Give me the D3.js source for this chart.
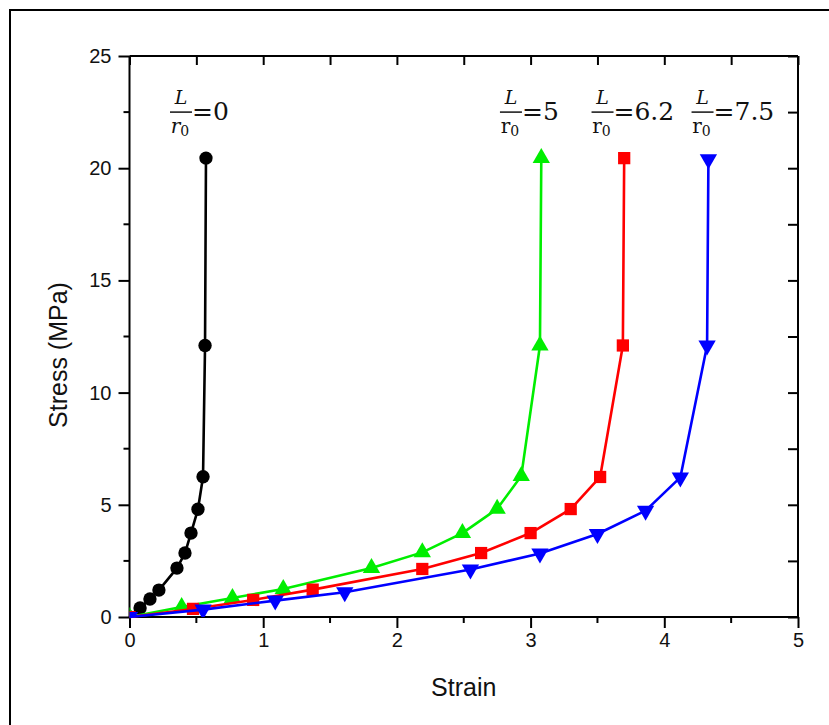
<!DOCTYPE html>
<html>
<head>
<meta charset="utf-8">
<script src="https://cdn.jsdelivr.net/npm/d3@7"></script>
<style>
  html, body { margin: 0; padding: 0; background: #fff; }
  svg { display: block; }
</style>
</head>
<body>
<svg id="chart" width="829" height="725"></svg>
<script>
// Stress–strain curves for four L/r0 ratios
const ratios = ["0", "5", "6.2", "7.5"];
const colors = ["#000000", "#00ee00", "#ff0000", "#0000ff"];
const markers = ["circle", "triangle", "square", "triangleDown"];

const strain0  = [0, 0.079, 0.153, 0.22, 0.355, 0.415, 0.46, 0.512, 0.55, 0.565, 0.572];
const stress0  = [0, 0.40, 0.80, 1.20, 2.18, 2.85, 3.74, 4.80, 6.25, 12.1, 20.45];
const strain5  = [0, 0.39, 0.77, 1.15, 1.81, 2.19, 2.49, 2.75, 2.93, 3.07, 3.08];
const stress5  = [0, 0.45, 0.85, 1.25, 2.18, 2.88, 3.74, 4.82, 6.28, 12.1, 20.45];
const strain62 = [0, 0.475, 0.925, 1.37, 2.19, 2.63, 3.00, 3.30, 3.52, 3.69, 3.70];
const stress62 = [0, 0.36, 0.76, 1.22, 2.14, 2.85, 3.74, 4.81, 6.24, 12.1, 20.45];
const strain75 = [0, 0.55, 1.09, 1.61, 2.55, 3.07, 3.50, 3.86, 4.12, 4.32, 4.33];
const stress75 = [0, 0.33, 0.73, 1.10, 2.12, 2.83, 3.70, 4.74, 6.22, 12.1, 20.4];

const xTicks = [0, 1, 2, 3, 4, 5];
const yTicks = [0, 5, 10, 15, 20, 25];
const xTitle = "Strain";
const yTitle = "Stress (MPa)";

(function () {
const series = [
  { strain: strain0,  stress: stress0 },
  { strain: strain5,  stress: stress5 },
  { strain: strain62, stress: stress62 },
  { strain: strain75, stress: stress75 }
].map((s, i) => ({
  ratio: ratios[i], color: colors[i], marker: markers[i],
  points: s.strain.map((x, j) => ({ x, y: s.stress[j] }))
}));

const svg = d3.select("#chart");
const W = 829, H = 725;
const pl = 129.5, pr = 798, pt = 56, pb = 617;

const x = d3.scaleLinear().domain([0, 5]).range([pl, pr]);
const y = d3.scaleLinear().domain([0, 25]).range([pb, pt]);

// frame around the figure
svg.append("path")
  .attr("d", `M10,${H} V10 H${W}`)
  .attr("fill", "none").attr("stroke", "#000").attr("stroke-width", 2);

const axisFont = "Arial, 'Liberation Sans', sans-serif";
const xMinor = d3.range(0, 5.01, 0.5);
const yMinor = d3.range(0, 25.01, 2.5);

// bottom axis
const gx = svg.append("g").attr("transform", `translate(0,${pb})`)
  .call(d3.axisBottom(x).tickValues(xTicks).tickFormat(d3.format("d")).tickSize(11).tickPadding(5));
gx.append("g").selectAll("line").data(xMinor.filter(v => !xTicks.includes(v))).join("line")
  .attr("x1", d => x(d)).attr("x2", d => x(d)).attr("y1", 0).attr("y2", 6);
// left axis
const gy = svg.append("g").attr("transform", `translate(${pl},0)`)
  .call(d3.axisLeft(y).tickValues(yTicks).tickFormat(d3.format("d")).tickSize(11).tickPadding(7));
gy.append("g").selectAll("line").data(yMinor.filter(v => !yTicks.includes(v))).join("line")
  .attr("x1", 0).attr("x2", -6).attr("y1", d => y(d)).attr("y2", d => y(d));
// top axis, ticks pointing inward
const gt = svg.append("g").attr("transform", `translate(0,${pt})`)
  .call(d3.axisBottom(x).tickValues(xMinor).tickFormat("").tickSize(9));
// right axis, ticks pointing inward
const gr = svg.append("g").attr("transform", `translate(${pr},0)`)
  .call(d3.axisLeft(y).tickValues(yMinor).tickFormat("").tickSize(-10));
gr.selectAll(".tick line").attr("x2", -10);

[gx, gy, gt, gr].forEach(g => {
  g.select(".domain").attr("stroke", "#000").attr("stroke-width", 2);
  g.selectAll("line").attr("stroke", "#000").attr("stroke-width", 2);
  g.selectAll("text").attr("fill", "#111").style("font-family", axisFont).style("font-size", "20px");
});
gt.select(".domain").attr("d", `M${pl},0H${pr}`);
gr.select(".domain").attr("d", `M0,${pt}V${pb}`);
gx.select(".domain").attr("d", `M${pl},0H${pr}`);
gy.select(".domain").attr("d", `M0,${pt}V${pb}`);

// axis titles
svg.append("text").attr("x", (pl + pr) / 2).attr("y", 696)
  .attr("text-anchor", "middle").style("font-family", axisFont).style("font-size", "25px")
  .attr("fill", "#111").text(xTitle);
svg.append("text").attr("transform", `translate(67,355) rotate(-90)`)
  .attr("text-anchor", "middle").style("font-family", axisFont).style("font-size", "25px")
  .attr("fill", "#111").text(yTitle);

// clip region for markers
svg.append("clipPath").attr("id", "plotClip").append("rect")
  .attr("x", pl).attr("y", pt).attr("width", pr - pl).attr("height", pb - pt);

const line = d3.line().x(d => x(d.x)).y(d => y(d.y));
const symbolOf = {
  circle: d3.symbol().type(d3.symbolCircle).size(140),
  square: d3.symbol().type(d3.symbolSquare).size(150),
  triangle: d3.symbol().type(d3.symbolTriangle).size(130),
  triangleDown: d3.symbol().type(d3.symbolTriangle).size(130)
};

series.forEach(s => {
  const g = svg.append("g");
  g.append("path").datum(s.points).attr("d", line)
    .attr("fill", "none").attr("stroke", s.color).attr("stroke-width", 2.6)
    .attr("stroke-linejoin", "round");
  g.append("g").attr("clip-path", "url(#plotClip)")
    .selectAll("path").data(s.points).join("path")
    .attr("d", symbolOf[s.marker])
    .attr("transform", d => `translate(${x(d.x)},${y(d.y)})` + (s.marker === "triangleDown" ? " rotate(180)" : ""))
    .attr("fill", s.color);
});

// L/r0 ratio annotations
const labelAnchors = [0.385, 2.853, 3.538, 4.286];
const serif = "'DejaVu Serif', 'Liberation Serif', serif";
series.forEach((s, i) => {
  const cx = x(labelAnchors[i]), ly = y(22.5);
  const g = svg.append("g").attr("fill", "#111").style("font-family", serif);
  g.append("text").attr("x", cx).attr("y", ly - 8).attr("text-anchor", "middle")
    .style("font-size", "19px").style("font-style", "italic").text("L");
  g.append("line").attr("x1", cx - 11).attr("x2", cx + 11).attr("y1", ly).attr("y2", ly)
    .attr("stroke", "#111").attr("stroke-width", 1.5);
  const den = g.append("text").attr("x", cx - 1).attr("y", ly + 21).attr("text-anchor", "middle")
    .style("font-size", "20px");
  den.append("tspan").style("font-style", i === 0 ? "italic" : "normal").text("r");
  den.append("tspan").attr("dy", 3).style("font-size", "14px").text("0");
  g.append("text").attr("x", cx + 11).attr("y", ly + 8)
    .style("font-size", "25px").text("=" + s.ratio);
});
})();
</script>
</body>
</html>
